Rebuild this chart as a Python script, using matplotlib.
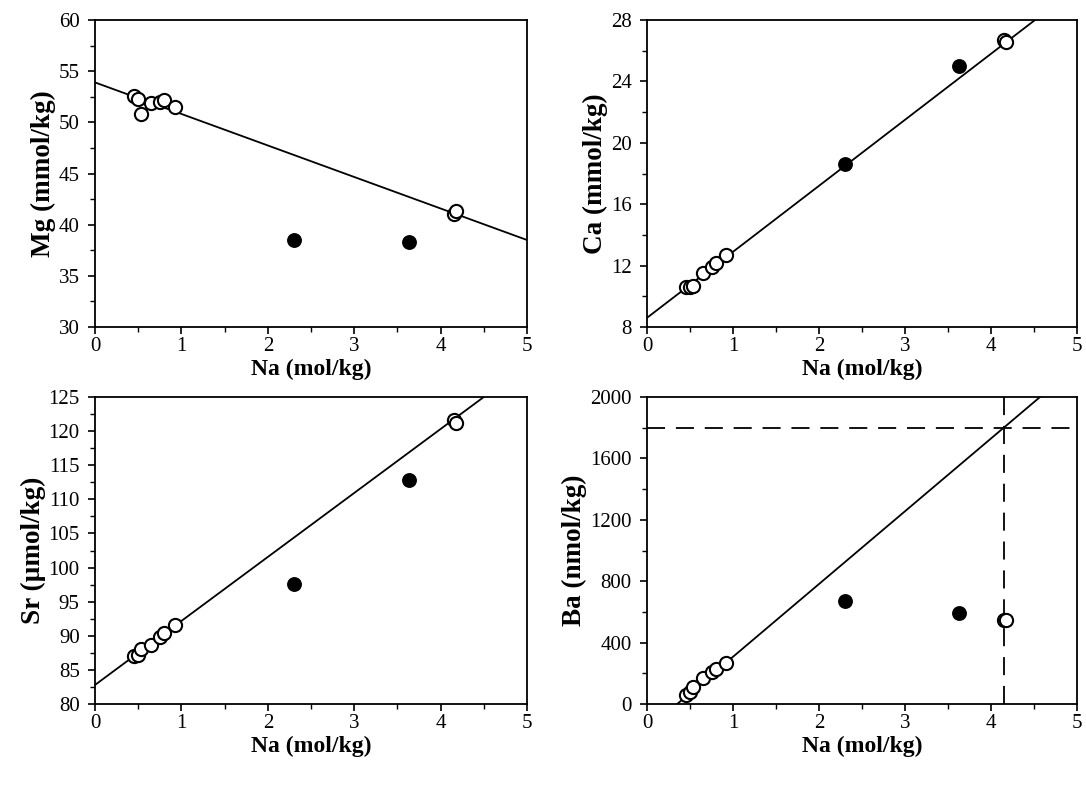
import matplotlib
matplotlib.use("Agg")
import matplotlib.pyplot as plt
import numpy as np
from matplotlib.ticker import MultipleLocator

plt.rcParams['font.family'] = ['Liberation Serif', 'DejaVu Serif']

# Na concentrations (mol/kg)
na_open = [0.45, 0.50, 0.53, 0.65, 0.75, 0.80, 0.92, 4.15, 4.18]
na_filled = [2.30, 3.63]

mg_open = [52.6, 52.3, 50.8, 51.9, 52.0, 52.2, 51.5, 41.0, 41.3]
mg_filled = [38.5, 38.3]
mg_line = [53.9, 38.5]   # values at Na = 0 and Na = 5

ca_open = [10.6, 10.6, 10.7, 11.5, 11.9, 12.2, 12.7, 26.7, 26.6]
ca_filled = [18.6, 25.0]
ca_line = [8.6, 30.1]

sr_open = [87.0, 87.2, 88.0, 88.7, 89.8, 90.4, 91.6, 121.7, 121.2]
sr_filled = [97.6, 112.8]
sr_line = [82.8, 129.7]

ba_open = [60, 80, 110, 170, 210, 230, 270, 550, 545]
ba_filled = [670, 590]
ba_line = [-166, 2204]
ba_hline = 1800
ba_vline = 4.15

line_x = [0, 5]

fig = plt.figure(figsize=(10.86, 8.07), dpi=100)

H = 0.3804
positions = [
    [0.0875, 0.5948, 0.3978, H],
    [0.5958, 0.5948, 0.3959, H],
    [0.0875, 0.1276, 0.3978, H],
    [0.5958, 0.1276, 0.3959, H],
]

panels = [
    (mg_open, mg_filled, mg_line, 'Mg (mmol/kg)', (30, 60), 5, 2.5),
    (ca_open, ca_filled, ca_line, 'Ca (mmol/kg)', (8, 28), 4, 2),
    (sr_open, sr_filled, sr_line, 'Sr (µmol/kg)', (80, 125), 5, 2.5),
    (ba_open, ba_filled, ba_line, 'Ba (nmol/kg)', (0, 2000), 400, 200),
]

for pos, (yo, yf, yl, lab, ylim, major, minor) in zip(positions, panels):
    ax = fig.add_axes(pos)
    ax.plot(line_x, yl, color='black', lw=1.3, zorder=2)
    ax.plot(na_filled, yf, 'o', ms=9.5, mfc='black', mec='black', mew=1.2, zorder=3)
    ax.plot(na_open, yo, 'o', ms=9.5, mfc='white', mec='black', mew=1.5, zorder=3)
    if lab.startswith('Ba'):
        ax.axhline(ba_hline, color='black', lw=1.3, dashes=(10, 6), zorder=1)
        ax.axvline(ba_vline, color='black', lw=1.3, dashes=(10, 6), zorder=1)
    ax.set_xlim(0, 5)
    ax.set_ylim(*ylim)
    ax.xaxis.set_major_locator(MultipleLocator(1))
    ax.xaxis.set_minor_locator(MultipleLocator(0.5))
    ax.yaxis.set_major_locator(MultipleLocator(major))
    ax.yaxis.set_minor_locator(MultipleLocator(minor))
    ax.tick_params(which='both', direction='out', top=False, right=False, labelsize=15)
    ax.tick_params(which='major', length=5, width=1.2)
    ax.tick_params(which='minor', length=3.5, width=1.0)
    ax.tick_params(axis='x', which='major', pad=2)
    ax.tick_params(axis='y', which='major', pad=6)
    for s in ax.spines.values():
        s.set_linewidth(1.3)
    ax.set_xlabel('Na (mol/kg)', fontsize=17, fontweight='bold', labelpad=2)
    ax.set_ylabel(lab, fontsize=19.5, fontweight='bold', labelpad=2)

fig.savefig('out.png', dpi=100)
